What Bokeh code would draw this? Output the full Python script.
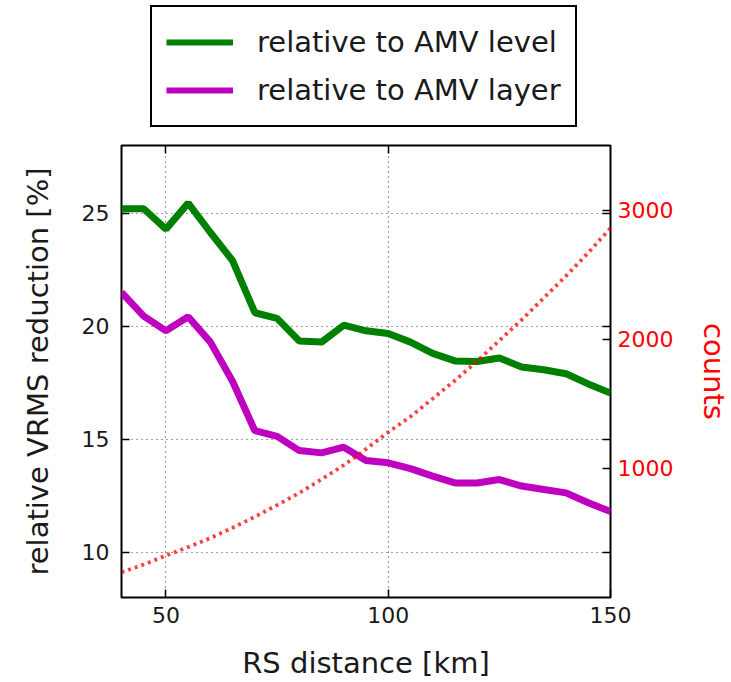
from bokeh.plotting import figure
from bokeh.layouts import column
from bokeh.models import (Range1d, LinearAxis, FixedTicker, Legend, LegendItem)
from bokeh.embed import file_html
from bokeh.resources import INLINE

# ---- data ----
distance = [40, 45, 50, 55, 60, 65, 70, 75, 80, 85, 90, 95, 100, 105, 110,
            115, 120, 125, 130, 135, 140, 145, 150]
rel_level = [25.2, 25.2, 24.3, 25.45, 24.15, 22.9, 20.6, 20.35, 19.35, 19.3,
             20.05, 19.8, 19.68, 19.3, 18.8, 18.47, 18.44, 18.6, 18.2, 18.08,
             17.9, 17.45, 17.05]
rel_layer = [21.5, 20.45, 19.8, 20.42, 19.3, 17.56, 15.38, 15.13, 14.5, 14.4,
             14.65, 14.06, 13.96, 13.7, 13.37, 13.07, 13.07, 13.22, 12.93,
             12.78, 12.63, 12.19, 11.8]
counts = [195, 255, 325, 390, 460, 540, 625, 715, 810, 915, 1025, 1150, 1280,
          1400, 1540, 1680, 1830, 1990, 2150, 2320, 2490, 2670, 2860]
x_ticks = [50, 100, 150]
y_ticks = [10, 15, 20, 25]
count_ticks = [1000, 2000, 3000]
labels = ["relative to AMV level", "relative to AMV layer"]

FONT = "DejaVu Sans"
TXT = "#1a1a1a"
GREEN = "green"
MAGENTA = "#bf00bf"

TOP_H = 140

p = figure(width=731, height=682 - TOP_H, frame_width=489, frame_height=452,
           x_range=Range1d(40, 150), y_range=Range1d(8, 28),
           output_backend="svg", toolbar_location=None,
           min_border_left=121, min_border_right=121,
           min_border_top=5, min_border_bottom=85)
p.background_fill_color = "white"
p.border_fill_color = "white"
p.outline_line_color = "black"
p.outline_line_width = 2

p.extra_y_ranges = {"counts": Range1d(0, 3500)}

# grid
for g in (p.xgrid, p.ygrid):
    g.grid_line_color = "black"
    g.grid_line_alpha = 0.75
    g.grid_line_dash = "1 4"
    g.grid_line_width = 1.2
p.xgrid.ticker = FixedTicker(ticks=[50, 100])
p.ygrid.ticker = FixedTicker(ticks=y_ticks)

# lines
p.line(distance, rel_level, line_color=GREEN, line_width=7)
p.line(distance, rel_layer, line_color=MAGENTA, line_width=7)
p.line(distance, counts, line_color="red", line_width=3.8, line_alpha=0.75,
       line_dash="3 4", y_range_name="counts")

def style_axis(ax, ticks, show_labels=True, color=TXT):
    ax.ticker = FixedTicker(ticks=ticks)
    ax.major_tick_in = 8
    ax.major_tick_out = 0
    ax.minor_tick_in = 0
    ax.minor_tick_out = 0
    ax.major_tick_line_color = "black"
    ax.major_tick_line_width = 1.5
    ax.axis_line_color = None
    ax.major_label_text_font = FONT
    ax.major_label_text_color = color
    ax.axis_label_text_font = FONT
    ax.axis_label_text_font_style = "normal"
    ax.axis_label_text_color = color
    ax.major_label_text_font_size = "22px"
    ax.axis_label_text_font_size = "29px"
    if not show_labels:
        ax.major_label_overrides = {t: "" for t in ticks}
        ax.major_label_standoff = 0

# bottom / left axes
xa = p.xaxis[0]
style_axis(xa, x_ticks)
xa.axis_label = "RS distance [km]"
xa.major_label_standoff = 9
xa.axis_label_standoff = 20

ya = p.yaxis[0]
style_axis(ya, y_ticks)
ya.axis_label = "relative VRMS reduction [%]"
ya.major_label_standoff = 12
ya.axis_label_standoff = 24

# tick-only mirror axes
ra = LinearAxis()
style_axis(ra, y_ticks, show_labels=False)
p.add_layout(ra, "right")

ta = LinearAxis()
style_axis(ta, [50, 100], show_labels=False)
p.add_layout(ta, "above")

# counts axis
ca = LinearAxis(y_range_name="counts", axis_label="counts")
style_axis(ca, count_ticks, color="red")
ca.major_label_standoff = 7
ca.axis_label_standoff = 21
p.add_layout(ca, "right")

# ---- legend panel on top ----
lf = figure(width=731, height=TOP_H, x_range=Range1d(0, 1), y_range=Range1d(1000, 1001),
            output_backend="svg", toolbar_location=None,
            x_axis_type=None, y_axis_type=None,
            min_border_left=121, min_border_right=121,
            min_border_top=0, min_border_bottom=0)
lf.outline_line_color = None
lf.xgrid.visible = False
lf.ygrid.visible = False
lf.background_fill_color = "white"
lf.border_fill_color = "white"
l1 = lf.line(distance, rel_level, line_color=GREEN, line_width=6)
l2 = lf.line(distance, rel_layer, line_color=MAGENTA, line_width=6)

legend = Legend(items=[LegendItem(label=labels[0], renderers=[l1]),
                       LegendItem(label=labels[1], renderers=[l2])],
                location=(29, TOP_H - 7 - 120))
legend.label_text_font = FONT
legend.label_text_font_size = "29px"
legend.label_text_color = TXT
legend.glyph_width = 67
legend.glyph_height = 42
legend.label_height = 42
legend.label_standoff = 24
legend.padding = 14
legend.spacing = 6
legend.margin = 0
legend.border_line_color = "black"
legend.border_line_alpha = 1
legend.border_line_width = 2
legend.background_fill_alpha = 1
lf.add_layout(legend, "center")

layout = column(lf, p, spacing=0)
open("out.html", "w").write(file_html(layout, INLINE))
